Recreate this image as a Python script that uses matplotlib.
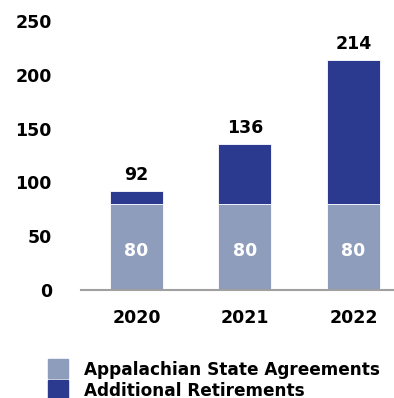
import matplotlib
matplotlib.use("Agg")
import matplotlib.pyplot as plt
from matplotlib.patches import Rectangle

years = ["2020", "2021", "2022"]
state_agreements = [80, 80, 80]
totals = [92, 136, 214]
additional = [t - s for t, s in zip(totals, state_agreements)]
series_names = ["Appalachian State Agreements", "Additional Retirements"]
y_ticks = [0, 50, 100, 150, 200, 250]

light_color = "#8f9dbd"
dark_color = "#2b3a8e"
font = "DejaVu Sans"
fsize = 12.5

fig = plt.figure(figsize=(3.94, 3.98), dpi=100)
ax = fig.add_axes([0.2056, 0.2714, 0.794, 0.7022])

x = list(range(len(years)))
ax.bar(x, state_agreements, width=0.49, color=light_color, edgecolor="white", linewidth=0.6)
ax.bar(x, additional, width=0.49, bottom=state_agreements, color=dark_color,
       edgecolor="white", linewidth=0.6)

# values inside the lower segment and totals above the stack
for xi, s, t in zip(x, state_agreements, totals):
    ax.text(xi, s * 0.45, str(s), ha="center", va="center", color="white",
            fontsize=fsize, fontweight="bold", family=font)
    ax.text(xi, t + 15, str(t), ha="center", va="center", color="black",
            fontsize=fsize, fontweight="bold", family=font)

ax.set_xlim(-0.511, 2.373)
ax.set_ylim(0, 260)
ax.set_xticks(x)
ax.set_xticklabels(years)
ax.set_yticks(y_ticks)
ax.tick_params(axis="both", length=0, labelsize=fsize)
ax.tick_params(axis="y", pad=21)
ax.tick_params(axis="x", pad=14)
for lbl in ax.get_xticklabels() + ax.get_yticklabels():
    lbl.set_fontweight("bold")
    lbl.set_family(font)

for side in ["top", "right", "left"]:
    ax.spines[side].set_visible(False)
ax.spines["bottom"].set_color("#a0a0a0")
ax.spines["bottom"].set_linewidth(1.5)

# legend drawn by hand at the bottom
W, H = 394.0, 398.0
for i, (name, col) in enumerate(zip(series_names, [light_color, dark_color])):
    top = 359 + i * 21
    fig.add_artist(Rectangle((48 / W, 1 - (top + 19) / H), 20 / W, 19 / H,
                             transform=fig.transFigure, color=col))
    fig.text(84 / W, 1 - (top + 11) / H, name, ha="left", va="center",
             fontsize=12.2, fontweight="bold", family=font)

fig.savefig("out.png", dpi=100)
